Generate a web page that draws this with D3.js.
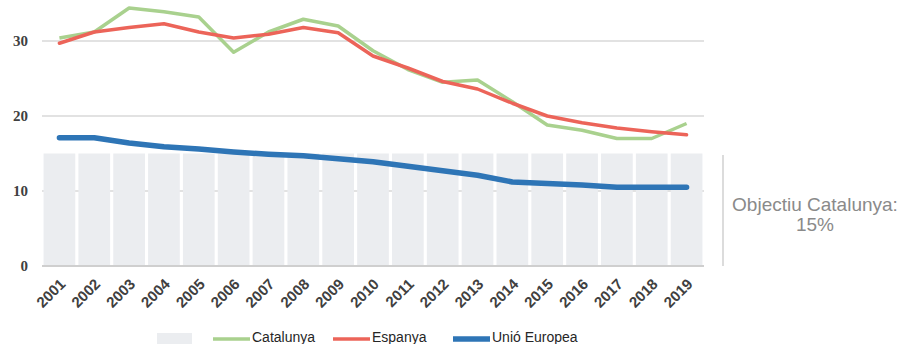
<!DOCTYPE html>
<html><head><meta charset="utf-8">
<script src="https://cdn.jsdelivr.net/npm/d3@7"></script>
<style>body{margin:0;background:#fff;}svg{display:block;}</style>
</head><body>
<svg id="c" width="901" height="344"></svg>
<script>
const years = ["2001","2002","2003","2004","2005","2006","2007","2008","2009","2010","2011","2012","2013","2014","2015","2016","2017","2018","2019"];
const objectiu = [15,15,15,15,15,15,15,15,15,15,15,15,15,15,15,15,15,15,15];
const catalunya = [30.4,31.2,34.4,33.9,33.2,28.5,31.2,32.9,32.0,28.7,26.2,24.5,24.8,21.9,18.8,18.1,17.0,17.0,19.0];
const espanya = [29.7,31.2,31.8,32.3,31.2,30.4,30.9,31.8,31.1,28.0,26.4,24.6,23.6,21.7,20.0,19.1,18.4,17.9,17.5];
const ue = [17.1,17.1,16.4,15.9,15.6,15.2,14.9,14.7,14.3,13.9,13.3,12.7,12.1,11.2,11.0,10.8,10.5,10.5,10.5];
const yTicks = [0,10,20,30];
const seriesNames = ["Catalunya","Espanya","Unió Europea"];
const annotation = ["Objectiu Catalunya:","15%"];

const svg = d3.select("#c");
const x = d3.scaleBand().domain(years).range([42,704]).paddingInner(0.09).paddingOuter(0.045);
const y = d3.scaleLinear().domain([0,30]).range([266,41]);

// gridlines
svg.append("g").selectAll("line").data(yTicks).join("line")
  .attr("x1",42).attr("x2",704).attr("y1",d=>y(d)).attr("y2",d=>y(d))
  .attr("stroke",d=>d===0?"#cfcfcf":"#d9d9d9").attr("stroke-width",d=>d===0?2:1.5);

// bars
svg.append("g").selectAll("rect").data(years).join("rect")
  .attr("x",d=>x(d)).attr("width",x.bandwidth())
  .attr("y",(d,i)=>y(objectiu[i])).attr("height",(d,i)=>y(0)-y(objectiu[i]))
  .attr("fill","#ebedf0");
svg.append("line").attr("x1",42).attr("x2",704).attr("y1",y(0)).attr("y2",y(0))
  .attr("stroke","#cfcfcf").attr("stroke-width",2);

// y axis labels
const yAxis = d3.axisLeft(y).tickValues(yTicks).tickSize(0).tickPadding(0);
const ya = svg.append("g").attr("transform","translate(28,0)").call(yAxis);
ya.select(".domain").remove();
ya.selectAll("text").attr("font-family","Liberation Serif").attr("font-weight","bold")
  .attr("font-size","15px").attr("fill","#404040");

// x axis labels
const xAxis = d3.axisBottom(x).tickSize(0).tickPadding(0);
const xa = svg.append("g").call(xAxis);
xa.select(".domain").remove();
xa.selectAll("text")
  .attr("font-family","Liberation Sans").attr("font-weight","bold").attr("font-size","15px")
  .attr("fill","#404040").attr("text-anchor","end").attr("dy",0).attr("y",0);
xa.selectAll(".tick").attr("transform",d=>`translate(${x(d)+x.bandwidth()/2+7},${285}) rotate(-45)`);

// lines
const line = arr => d3.line().x((d,i)=>x(years[i])+x.bandwidth()/2).y(d=>y(d))(arr);
svg.append("path").attr("d",line(catalunya)).attr("fill","none").attr("stroke","#a9d18e").attr("stroke-width",3.5).attr("stroke-linejoin","round");
svg.append("path").attr("d",line(espanya)).attr("fill","none").attr("stroke","#ec6459").attr("stroke-width",3.5).attr("stroke-linejoin","round").attr("stroke-linecap","round");
svg.append("path").attr("d",line(ue)).attr("fill","none").attr("stroke","#2e75b6").attr("stroke-width",5.5).attr("stroke-linejoin","round").attr("stroke-linecap","round");

// annotation
svg.append("line").attr("x1",723).attr("x2",723).attr("y1",155).attr("y2",266).attr("stroke","#d0d0d0").attr("stroke-width",1.5);
svg.append("g").selectAll("text").data(annotation).join("text")
  .attr("x",815).attr("y",(d,i)=>211+i*20).attr("text-anchor","middle")
  .attr("font-family","Liberation Sans").attr("font-size","19px").attr("fill","#8a8a8a").text(d=>d);

// legend
const lg = svg.append("g");
lg.append("rect").attr("x",157).attr("y",333).attr("width",35).attr("height",11).attr("fill","#ebedf0");
const lcolors = ["#a9d18e","#ec6459","#2e75b6"];
const lx = [213,333,453];
const lw = [3.5,3.5,5.5];
seriesNames.forEach((n,i)=>{
  lg.append("line").attr("x1",lx[i]).attr("x2",lx[i]+37).attr("y1",339).attr("y2",339).attr("stroke",lcolors[i]).attr("stroke-width",lw[i]);
  lg.append("text").attr("x",lx[i]+39).attr("y",342).attr("font-family","Liberation Sans").attr("font-size","14px").attr("fill","#262626").text(n);
});
</script>
</body></html>
